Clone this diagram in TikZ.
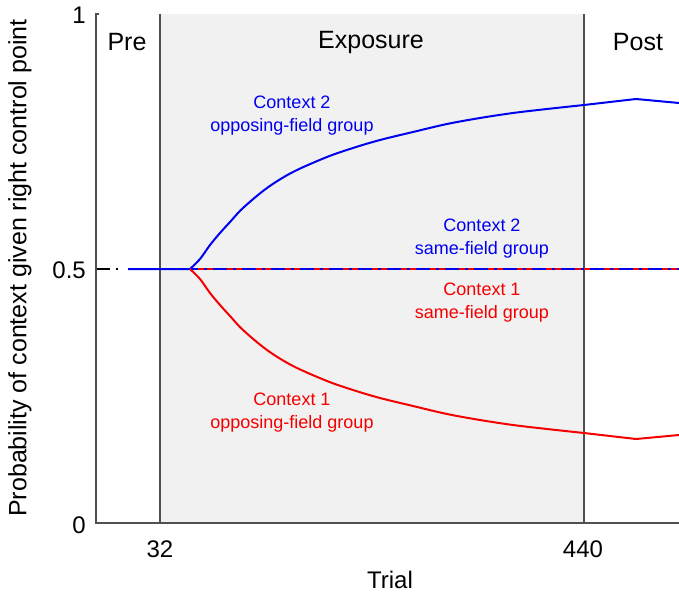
\documentclass[tikz,border=0pt]{standalone}
\usepackage{fontspec}
\setmainfont{Liberation Sans}
\definecolor{axisgray}{HTML}{505050}
\definecolor{shadegray}{HTML}{F1F1F1}
\definecolor{cblue}{RGB}{0,0,240}
\definecolor{cred}{RGB}{245,0,0}
\tikzset{
  axisline/.style={draw=axisgray, line width=1.5pt},
  curveline/.style={line width=2pt, line join=round},
  ticklabel/.style={font=\fontsize{24}{28}\selectfont, inner sep=0pt},
  phaselabel/.style={font=\fontsize{25}{29}\selectfont, inner sep=0pt},
  ctxlabel/.style={font=\fontsize{18}{23}\selectfont, align=center, inner sep=0pt},
}
\begin{document}
\begin{tikzpicture}[x=1pt,y=-1pt]
\useasboundingbox (0,0) rectangle (679,596);
% shaded exposure region
\fill[fill=shadegray] (160,14) rectangle (584,523);
% phase separators
\draw[axisgray, line width=1.5pt] (160,14) coordinate (s1top) -- (160,523) coordinate (s1bot);
\draw[axisgray, line width=1.5pt] (584,14) coordinate (s2top) -- (584,523) coordinate (s2bot);
% baseline before trial 0
\coordinate (b0) at (96,269);
\coordinate (b1) at (128,269);
\draw[black, line width=1.3pt, dash pattern=on 14pt off 6pt on 2pt off 20pt] (b0) -- (b1);
% same-field lines
\coordinate (sfend) at (679,269);
\coordinate (br) at (190,269);
\draw[cblue, curveline] (b1) -- (sfend);
\draw[cred, line width=2.3pt, dash pattern=on 6pt off 3pt on 6pt off 14pt, dash phase=-8pt] (br) -- (sfend);
% opposing-field context 2 (blue)
\draw[cblue, curveline] (b1) -- (br)
  plot[smooth, tension=0.55] coordinates {(190,269) (200,259) (210,245) (220,233) (230,222) (243,208) (267,188) (293,172) (327,157) (353,148) (380,140) (413,132) (447,124) (480,118) (513,113) (547,109) (584,105)}
  -- (636,99) -- (679,103);
% opposing-field context 1 (red)
\draw[cred, curveline]
  plot[smooth, tension=0.55] coordinates {(190,269) (200,279) (210,293) (220,305) (230,316) (243,330) (267,350) (293,366) (327,381) (353,390) (380,398) (413,406) (447,414) (480,420) (513,425) (547,429) (584,433)}
  -- (636,439) -- (679,435);
% axes
\draw[axisline] (99,14) -- (96,14) -- (96,523) -- (679,523);
% tick labels
\node[ticklabel, anchor=east] (t1) at (86,15) {1};
\node[ticklabel, anchor=east] (t05) at (86,270) {0.5};
\node[ticklabel, anchor=east] (t0) at (86,525) {0};
\node[ticklabel] (x32) at (160,549) {32};
\node[ticklabel] (x440) at (583,549) {440};
\node[ticklabel] (xlab) at (390,580) {Trial};
\node[phaselabel, rotate=90] (ylab) at (20,268) {Probability of context given right control point};
% phase labels
\node[phaselabel] (pre) at (127,42) {Pre};
\node[phaselabel] (expo) at (371,42) {Exposure};
\node[phaselabel] (post) at (638,42) {Post};
% context labels
\node[ctxlabel, text=cblue] (c2o) at (292,116) {Context 2\\opposing-field group};
\node[ctxlabel, text=cblue] (c2s) at (482,239) {Context 2\\same-field group};
\node[ctxlabel, text=cred] (c1s) at (482,303) {Context 1\\same-field group};
\node[ctxlabel, text=cred] (c1o) at (292,413) {Context 1\\opposing-field group};
\end{tikzpicture}
\end{document}
